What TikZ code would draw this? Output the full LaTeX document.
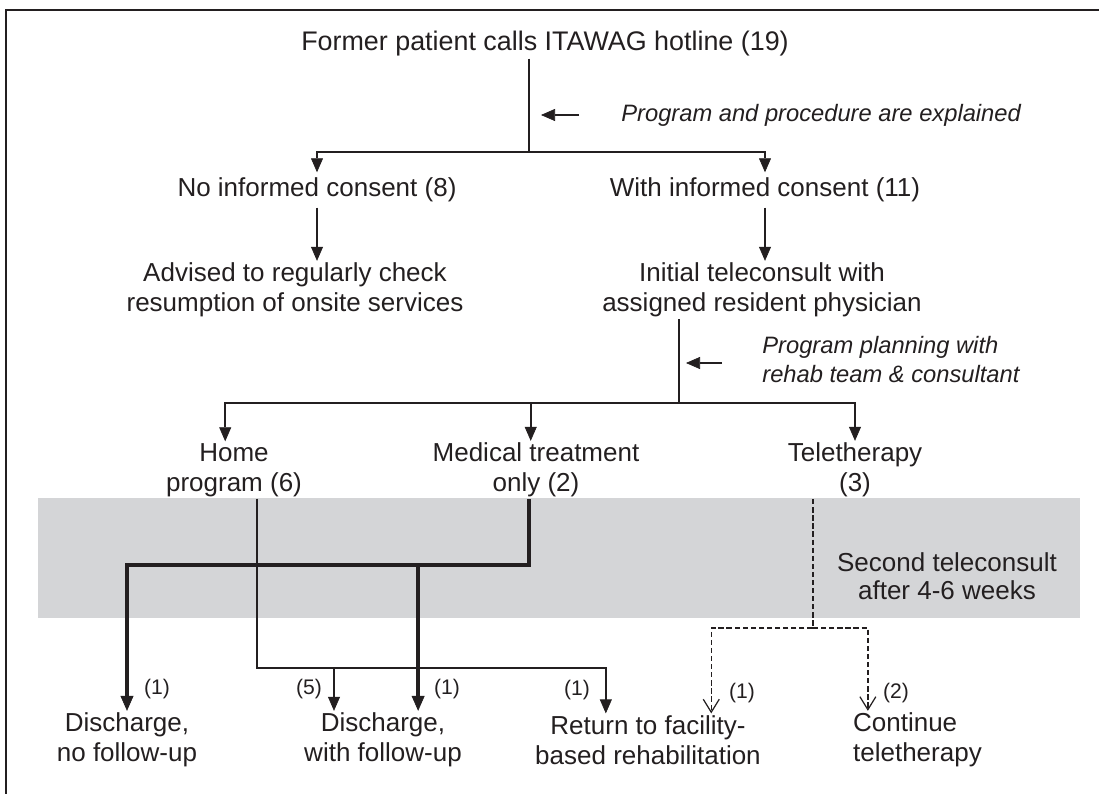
\documentclass[tikz,border=0pt]{standalone}
\usepackage{fontspec}
\setmainfont{Liberation Sans}
\usetikzlibrary{arrows.meta, positioning, calc}
\definecolor{bandgray}{RGB}{212,213,215}
\definecolor{ink}{RGB}{35,31,32}
\newcommand{\mainfs}{\fontsize{14.8}{17}\selectfont}
\newcommand{\notefs}{\fontsize{13.5}{16.5}\selectfont\itshape}
\newcommand{\cntfs}{\fontsize{12}{14}\selectfont}

\begin{document}
\begin{tikzpicture}[
    x=0.02cm, y=-0.02cm,
    every node/.style={text=ink},
    box/.style={align=center, inner sep=1pt, font=\mainfs},
    note/.style={align=left, anchor=west, inner sep=0pt, font=\notefs},
    cnt/.style={inner sep=0pt, font=\cntfs},
    plain/.style={line width=1pt, draw=ink},
    arrow/.style={-{Triangle[length=2.8mm, width=2.4mm, line width=0.4pt]}, line width=1pt, draw=ink},
    tarrow/.style={-{Triangle[length=3mm, width=2.6mm, line width=0.4pt]}, line width=2.4pt, draw=ink},
    darrow/.style={-{Straight Barb[length=2.6mm, width=3.2mm, line width=0.7pt]}, dash pattern=on 3pt off 1.6pt, line width=0.8pt, draw=ink}
  ]

    \useasboundingbox (0,0) rectangle (1099,794);

    % frame and grey band
    \draw[line width=1.2pt, ink] (6,794) -- (6,10) -- (1099,10);
    \fill[bandgray] (38,498) rectangle (1080,618);

    % top: hotline and consent
    \node[box, font=\fontsize{15.3}{17}\selectfont] (hotline) at (545,44) {Former patient calls ITAWAG hotline (19)};
    \node[box, inner ysep=3pt] (noconsent) at (317,190) {No informed consent (8)};
    \node[box, inner ysep=3pt] (consent) at (765,190) {With informed consent (11)};
    \node[box] (advised) at (295,290) {Advised to regularly check\\resumption of onsite services};
    \node[box] (initial) at (762,290) {Initial teleconsult with\\assigned resident physician};

    % middle: programs
    \node[box] (home) at (234,470) {Home\\program (6)};
    \node[box] (medical) at (536,470) {Medical treatment\\only (2)};
    \node[box] (tele) at (855,470) {Teletherapy\\(3)};
    \node[box, font=\fontsize{14.8}{16}\selectfont] (second) at (947,576) {Second teleconsult\\after 4-6 weeks};

    % bottom: outcomes
    \node[box] (dischno) at (127,740) {Discharge,\\no follow-up};
    \node[box] (dischwith) at (383,740) {Discharge,\\with follow-up};
    \node[box] (facility) at (648,740) {Return to facility-\\based rehabilitation};
    \node[box, align=left, anchor=west] (continue) at (851,740) {Continue\\teletherapy};

    % side notes
    \node[note] (explain) at (621,115) {Program and procedure are explained};
    \node[note] (planning) at (762,360) {Program planning with\\rehab team \& consultant};

    % branch points
    \coordinate (split1) at (529,152);
    \coordinate (split2) at (679,403);
    \coordinate (homebend) at (257,668);
    \coordinate (medbend) at (529,565);
    \coordinate (telebend) at (813,628);
    \coordinate (fivetop) at (334,668);

    % hotline -> consent
    \draw[plain] (split1 |- hotline.south) -- (split1);
    \draw[arrow] (split1) -| (noconsent.north);
    \draw[arrow] (split1) -| (consent.north);
    \draw[arrow] ($(explain.west)+(-42,0)$) -- ($(explain.west)+(-80,0)$);
    \draw[arrow] (noconsent.south) -- (noconsent.south |- advised.north);
    \draw[arrow] (consent.south) -- (consent.south |- initial.north);

    % teleconsult -> programs
    \draw[plain] (split2 |- initial.south) -- (split2);
    \draw[arrow] ($(planning.west)+(-40,3)$) -- ($(planning.west)+(-76,3)$);
    \draw[arrow] (split2) -| ([xshift=-5pt]home.north);
    \draw[arrow] (split2) -| ([xshift=-3pt]medical.north);
    \draw[arrow] (split2) -| (tele.north);

    % home program
    \draw[arrow] (homebend |- home.south) -- (homebend) -| ([xshift=-24pt]facility.north);
    \draw[arrow] (fivetop) -- (fivetop |- dischwith.north);

    % medical treatment (thick)
    \draw[tarrow] (medbend |- medical.south) -- (medbend) -| (dischno.north);
    \draw[tarrow] ([xshift=20pt]dischwith.north |- medbend) -- ([xshift=20pt]dischwith.north);

    % teletherapy (dashed)
    \draw[darrow] (telebend |- tele.south) -- (telebend) -| ([xshift=36pt]facility.north);
    \draw[darrow] (telebend) -| ([xshift=9.6pt]continue.north west);

    % counts
    \node[cnt] (c1) at (157,689) {(1)};
    \node[cnt] (c5) at (309,689) {(5)};
    \node[cnt] (c2) at (447,689) {(1)};
    \node[cnt] (c3) at (577,690) {(1)};
    \node[cnt] (c4) at (742,693) {(1)};
    \node[cnt] (c6) at (896,693) {(2)};

  \end{tikzpicture}
\end{document}
